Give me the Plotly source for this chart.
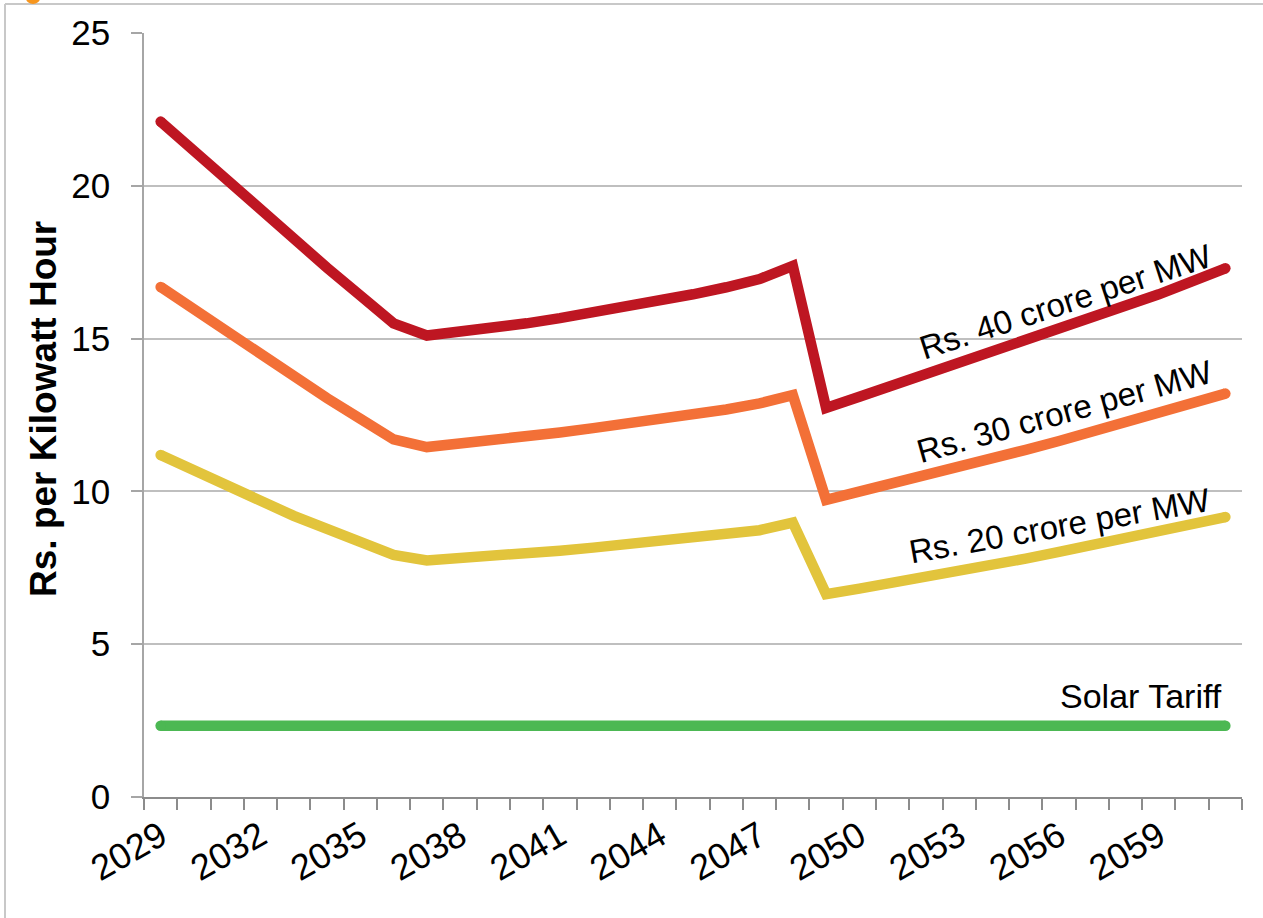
import plotly.graph_objects as go

# ---- data ----
years = [2029, 2030, 2031, 2032, 2033, 2034, 2035, 2036, 2037, 2038, 2039,
         2040, 2041, 2042, 2043, 2044, 2045, 2046, 2047, 2048, 2049, 2050,
         2051, 2052, 2053, 2054, 2055, 2056, 2057, 2058, 2059, 2060, 2061]
tick_years = [2029, 2032, 2035, 2038, 2041, 2044, 2047, 2050, 2053, 2056, 2059]
tick_labels = ["2029", "2032", "2035", "2038", "2041", "2044", "2047", "2050", "2053", "2056", "2059"]

rs40 = [22.1, 21.13, 20.16, 19.2, 18.23, 17.32, 16.41, 15.5,
        15.1, 15.22, 15.36, 15.5, 15.67, 15.85, 16.05, 16.25, 16.45, 16.68, 16.95, 17.38,
        12.73, 13.1, 13.47, 13.84, 14.2, 14.55, 14.9, 15.27, 15.65, 16.05, 16.45, 16.87, 17.3]
rs30 = [16.69, 15.95, 15.2, 14.48, 13.74, 13.05, 12.38, 11.7,
        11.45, 11.55, 11.67, 11.8, 11.93, 12.07, 12.21, 12.36, 12.52, 12.68, 12.88, 13.15,
        9.72, 9.98, 10.25, 10.52, 10.8, 11.08, 11.36, 11.65, 11.95, 12.25, 12.55, 12.87, 13.2]
rs20 = [11.19, 10.68, 10.17, 9.66, 9.2, 8.77, 8.34, 7.92,
        7.74, 7.8, 7.88, 7.97, 8.06, 8.16, 8.26, 8.37, 8.48, 8.6, 8.73, 8.98,
        6.64, 6.82, 7.0, 7.19, 7.39, 7.59, 7.8, 8.02, 8.24, 8.46, 8.69, 8.92, 9.16]
solar = [2.33] * len(years)

series_names = ["Rs. 40 crore per MW", "Rs. 30 crore per MW", "Rs. 20 crore per MW", "Solar Tariff"]
series_values = [rs40, rs30, rs20, solar]
series_colors = ["rgb(190,22,34)", "rgb(243,112,55)", "rgb(226,196,60)", "rgb(76,184,83)"]

FONT = "Liberation Sans, Arial, sans-serif"
LW = 10.5

fig = go.Figure()
for name, vals, col in zip(series_names, series_values, series_colors):
    n = len(vals)
    sizes = [LW] + [0] * (n - 2) + [LW]
    fig.add_trace(go.Scatter(
        x=years, y=vals, name=name, mode="lines+markers",
        line=dict(color=col, width=LW),
        marker=dict(size=sizes, color=col, opacity=1, line=dict(width=0)),
        showlegend=False, hoverinfo="x+y+name"))

# labels placed near line ends (paper coords)
labels = [
    ("Rs. 40 crore per MW", 0.8397, 0.6492, -18, 33),
    ("Rs. 30 crore per MW", 0.8379, 0.5052, -15.5, 33),
    ("Rs. 20 crore per MW", 0.8342, 0.3560, -10, 33),
    ("Solar Tariff", 0.9080, 0.1322, 0, 34),
]
for txt, xp, yp, ang, sz in labels:
    fig.add_annotation(text=txt, x=xp, y=yp, xref="paper", yref="paper",
                       showarrow=False, textangle=ang, xanchor="center", yanchor="middle",
                       font=dict(family=FONT, size=sz, color="black"))

fig.add_annotation(text="<b>Rs. per Kilowatt Hour</b>", x=-0.0911, y=0.5079,
                   xref="paper", yref="paper", showarrow=False, textangle=-90,
                   xanchor="center", yanchor="middle",
                   font=dict(family=FONT, size=37, color="black"))

# frame (top & left) and small orange mark at top-left
fig.add_shape(type="line", xref="paper", yref="paper", x0=-0.1266, x1=1.1, y0=1.0380, y1=1.0380,
              line=dict(color="#C8C8C8", width=2))
fig.add_shape(type="line", xref="paper", yref="paper", x0=-0.1266, x1=-0.1266, y0=-0.2, y1=1.0380,
              line=dict(color="#C8C8C8", width=2))
fig.add_shape(type="circle", xref="paper", yref="paper", x0=-0.1075, x1=-0.0947, y0=1.0380, y1=1.0530,
              fillcolor="rgb(247,150,30)", line=dict(width=0))

fig.update_layout(
    width=1263, height=918,
    margin=dict(l=144, r=21, t=33, b=121),
    paper_bgcolor="white", plot_bgcolor="white",
    font=dict(family=FONT, color="black"),
    xaxis=dict(
        range=[2028.5, 2061.5], tickmode="array", tickvals=tick_years, ticktext=tick_labels,
        tickangle=-30, tickfont=dict(size=36, family=FONT, color="black"),
        ticks="", showgrid=False, zeroline=False,
        showline=True, linecolor="#8C8C8C", linewidth=2,
        ticklabelstandoff=2,
        minor=dict(ticks="outside", tick0=2028.5, dtick=1, ticklen=11,
                   tickcolor="#8C8C8C", tickwidth=2, showgrid=False),
    ),
    yaxis=dict(
        range=[0, 25], tickmode="linear", tick0=0, dtick=5,
        tickfont=dict(size=35, family=FONT, color="black"),
        ticks="outside", ticklen=11, tickcolor="#A6A6A6", tickwidth=1.5,
        showgrid=True, gridcolor="#BFBFBF", gridwidth=2, zeroline=False,
        showline=True, linecolor="#A6A6A6", linewidth=1.5,
        ticklabelstandoff=14,
    ),
)

fig.write_html("out.html", config={"displayModeBar": False},
               post_script="document.body.style.margin='0';")
